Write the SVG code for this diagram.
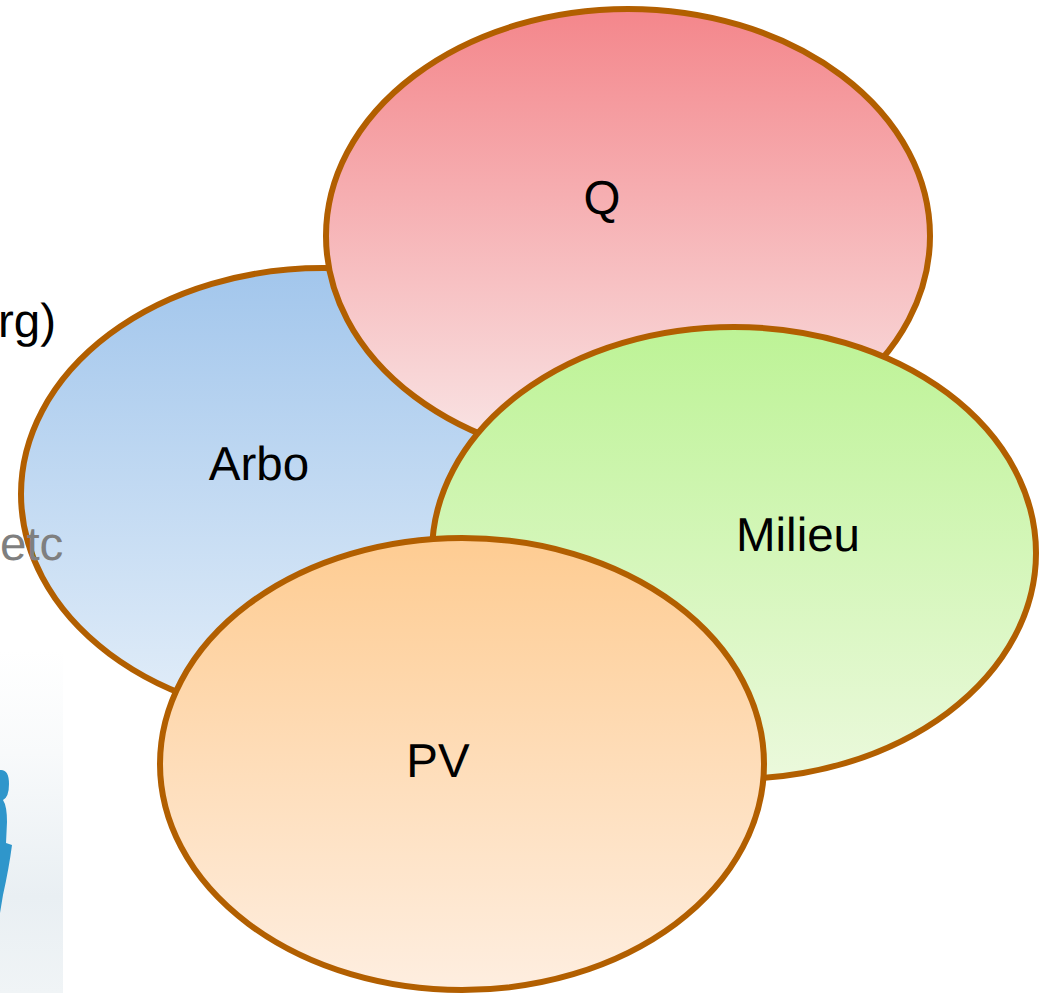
<svg xmlns="http://www.w3.org/2000/svg" width="1039" height="993" viewBox="0 0 1039 993">
<style>
.n{stroke:#b25f00;stroke-width:6}
text{font-family:"Liberation Sans",Arial,sans-serif;font-size:47.5px;fill:#000;text-rendering:geometricPrecision}
</style>
<defs>
<linearGradient id="gq" x1="0" y1="0" x2="0" y2="1"><stop offset="0" stop-color="#f4868b"/><stop offset="1" stop-color="#f9e8e8"/></linearGradient>
<linearGradient id="ga" x1="0" y1="0" x2="0" y2="1"><stop offset="0" stop-color="#a2c6ec"/><stop offset="1" stop-color="#e3eef9"/></linearGradient>
<linearGradient id="gm" x1="0" y1="0" x2="0" y2="1"><stop offset="0" stop-color="#bdf396"/><stop offset="1" stop-color="#ebf9dc"/></linearGradient>
<linearGradient id="gp" x1="0" y1="0" x2="0" y2="1"><stop offset="0" stop-color="#fecc92"/><stop offset="1" stop-color="#feeee0"/></linearGradient>
<linearGradient id="bg" x1="0" y1="0" x2="0" y2="1"><stop offset="0" stop-color="#ffffff"/><stop offset="0.3" stop-color="#f8fafb"/><stop offset="0.72" stop-color="#e9eff3"/><stop offset="1" stop-color="#f0f4f6"/></linearGradient>
</defs>
<rect x="0" y="650" width="63" height="343" fill="url(#bg)"/>
<path d="M0 770 Q9 769 9 784 Q9 797 3 800 Q7 806 7 822 L6 843 L12 845 Q9 868 3 895 L0 913 Z" fill="#2f96cb"/>
<text x="-2" y="337">rg)</text>
<g id="nodes">
<g id="arbo"><ellipse class="n" cx="323" cy="494" rx="302" ry="226" fill="url(#ga)"/><text x="259" y="480" text-anchor="middle">Arbo</text></g>
<g id="q"><ellipse class="n" cx="628" cy="236" rx="302" ry="227" fill="url(#gq)"/><text x="602" y="214" text-anchor="middle">Q</text></g>
<g id="milieu"><ellipse class="n" cx="734" cy="553" rx="302" ry="226" fill="url(#gm)"/><text x="798" y="551" text-anchor="middle">Milieu</text></g>
<g id="pv"><ellipse class="n" cx="462" cy="764" rx="302" ry="226" fill="url(#gp)"/><text x="438" y="777" text-anchor="middle">PV</text></g>
</g>
<text x="0" y="560" style="fill:#7f7f7f">etc</text>
<g id="connectors"></g>
</svg>
